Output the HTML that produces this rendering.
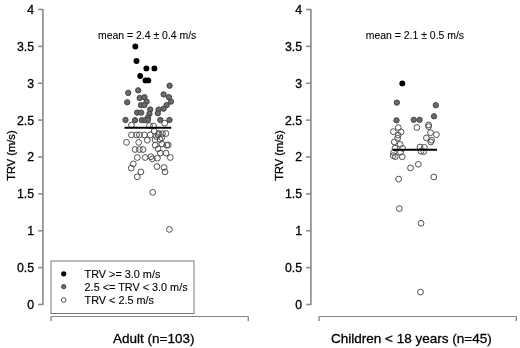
<!DOCTYPE html>
<html><head><meta charset="utf-8"><style>
html,body{margin:0;padding:0;background:#fff;}
svg{display:block;will-change:transform;}
text{font-family:"Liberation Sans",sans-serif;fill:#000;stroke:#000;stroke-width:0.3px;}
</style></head><body>
<svg width="520" height="348" viewBox="0 0 520 348">
<rect width="520" height="348" fill="#fff"/>
<line x1="42.9" y1="9.0" x2="42.9" y2="305.0" stroke="#8f8f8f" stroke-width="1.7"/>
<line x1="38.2" y1="304.5" x2="43" y2="304.5" stroke="#8a8a8a" stroke-width="1.6"/>
<text x="34.05" y="308.9" font-size="12.3" text-anchor="end" >0</text>
<line x1="38.2" y1="267.625" x2="43" y2="267.625" stroke="#8a8a8a" stroke-width="1.6"/>
<text x="34.05" y="272.025" font-size="12.3" text-anchor="end" >0.5</text>
<line x1="38.2" y1="230.75" x2="43" y2="230.75" stroke="#8a8a8a" stroke-width="1.6"/>
<text x="34.05" y="235.15" font-size="12.3" text-anchor="end" >1</text>
<line x1="38.2" y1="193.875" x2="43" y2="193.875" stroke="#8a8a8a" stroke-width="1.6"/>
<text x="34.05" y="198.275" font-size="12.3" text-anchor="end" >1.5</text>
<line x1="38.2" y1="157.0" x2="43" y2="157.0" stroke="#8a8a8a" stroke-width="1.6"/>
<text x="34.05" y="161.4" font-size="12.3" text-anchor="end" >2</text>
<line x1="38.2" y1="120.125" x2="43" y2="120.125" stroke="#8a8a8a" stroke-width="1.6"/>
<text x="34.05" y="124.525" font-size="12.3" text-anchor="end" >2.5</text>
<line x1="38.2" y1="83.25" x2="43" y2="83.25" stroke="#8a8a8a" stroke-width="1.6"/>
<text x="34.05" y="87.65" font-size="12.3" text-anchor="end" >3</text>
<line x1="38.2" y1="46.375" x2="43" y2="46.375" stroke="#8a8a8a" stroke-width="1.6"/>
<text x="34.05" y="50.775" font-size="12.3" text-anchor="end" >3.5</text>
<line x1="38.2" y1="9.5" x2="43" y2="9.5" stroke="#8a8a8a" stroke-width="1.6"/>
<text x="34.05" y="13.9" font-size="12.3" text-anchor="end" >4</text>
<line x1="51" y1="316.5" x2="248.3" y2="316.5" stroke="#858585" stroke-width="1"/>
<line x1="51" y1="316.5" x2="51" y2="321" stroke="#858585" stroke-width="1.4"/>
<line x1="248.3" y1="316.5" x2="248.3" y2="321" stroke="#858585" stroke-width="1.4"/>
<text x="0" y="0" font-size="11.1" text-anchor="middle" transform="translate(14.7 155.6) rotate(-90)">TRV (m/s)</text>
<line x1="310.9" y1="9.0" x2="310.9" y2="305.0" stroke="#8f8f8f" stroke-width="1.7"/>
<line x1="306.2" y1="304.5" x2="311" y2="304.5" stroke="#8a8a8a" stroke-width="1.6"/>
<text x="302.05" y="308.9" font-size="12.3" text-anchor="end" >0</text>
<line x1="306.2" y1="267.625" x2="311" y2="267.625" stroke="#8a8a8a" stroke-width="1.6"/>
<text x="302.05" y="272.025" font-size="12.3" text-anchor="end" >0.5</text>
<line x1="306.2" y1="230.75" x2="311" y2="230.75" stroke="#8a8a8a" stroke-width="1.6"/>
<text x="302.05" y="235.15" font-size="12.3" text-anchor="end" >1</text>
<line x1="306.2" y1="193.875" x2="311" y2="193.875" stroke="#8a8a8a" stroke-width="1.6"/>
<text x="302.05" y="198.275" font-size="12.3" text-anchor="end" >1.5</text>
<line x1="306.2" y1="157.0" x2="311" y2="157.0" stroke="#8a8a8a" stroke-width="1.6"/>
<text x="302.05" y="161.4" font-size="12.3" text-anchor="end" >2</text>
<line x1="306.2" y1="120.125" x2="311" y2="120.125" stroke="#8a8a8a" stroke-width="1.6"/>
<text x="302.05" y="124.525" font-size="12.3" text-anchor="end" >2.5</text>
<line x1="306.2" y1="83.25" x2="311" y2="83.25" stroke="#8a8a8a" stroke-width="1.6"/>
<text x="302.05" y="87.65" font-size="12.3" text-anchor="end" >3</text>
<line x1="306.2" y1="46.375" x2="311" y2="46.375" stroke="#8a8a8a" stroke-width="1.6"/>
<text x="302.05" y="50.775" font-size="12.3" text-anchor="end" >3.5</text>
<line x1="306.2" y1="9.5" x2="311" y2="9.5" stroke="#8a8a8a" stroke-width="1.6"/>
<text x="302.05" y="13.9" font-size="12.3" text-anchor="end" >4</text>
<line x1="319" y1="316.5" x2="516.3" y2="316.5" stroke="#858585" stroke-width="1"/>
<line x1="319" y1="316.5" x2="319" y2="321" stroke="#858585" stroke-width="1.4"/>
<line x1="516.3" y1="316.5" x2="516.3" y2="321" stroke="#858585" stroke-width="1.4"/>
<text x="0" y="0" font-size="11.1" text-anchor="middle" transform="translate(282.7 155.6) rotate(-90)">TRV (m/s)</text>
<text x="98" y="39.2" font-size="10.45" text-anchor="start" style="stroke-width:0.08px">mean = 2.4 ± 0.4 m/s</text>
<text x="365.8" y="39.2" font-size="10.45" text-anchor="start" style="stroke-width:0.08px">mean = 2.1 ± 0.5 m/s</text>
<text x="113.1" y="342.5" font-size="13.5" text-anchor="start" >Adult (n=103)</text>
<text x="331.1" y="342.5" font-size="13.5" text-anchor="start" >Children &lt; 18 years (n=45)</text>
<rect x="51" y="261" width="143" height="52.5" fill="none" stroke="#777" stroke-width="1"/>
<text x="84.6" y="277.5" font-size="10.85" text-anchor="start" style="stroke-width:0.1px">TRV &gt;= 3.0 m/s</text>
<text x="84.6" y="290.7" font-size="10.85" text-anchor="start" style="stroke-width:0.1px">2.5 &lt;= TRV &lt; 3.0 m/s</text>
<text x="84.6" y="303.9" font-size="10.85" text-anchor="start" style="stroke-width:0.1px">TRV &lt; 2.5 m/s</text>
<circle cx="63.7" cy="273.8" r="2.6" fill="#000"/>
<circle cx="63.7" cy="286.7" r="2.15" fill="#6b6b6b" stroke="#424242" stroke-width="1"/>
<circle cx="63.7" cy="300" r="2.3" fill="none" stroke="#505050" stroke-width="1.0"/>
<circle cx="131.5" cy="125" r="2.9" fill="none" stroke="#505050" stroke-width="1.0"/>
<circle cx="164.7" cy="123.2" r="2.9" fill="none" stroke="#505050" stroke-width="1.0"/>
<circle cx="149.5" cy="125.5" r="2.9" fill="none" stroke="#505050" stroke-width="1.0"/>
<circle cx="153.5" cy="126" r="2.9" fill="none" stroke="#505050" stroke-width="1.0"/>
<circle cx="131.5" cy="134.9" r="2.9" fill="none" stroke="#505050" stroke-width="1.0"/>
<circle cx="136.6" cy="134.9" r="2.9" fill="none" stroke="#505050" stroke-width="1.0"/>
<circle cx="139.4" cy="134.9" r="2.9" fill="none" stroke="#505050" stroke-width="1.0"/>
<circle cx="144.5" cy="134.9" r="2.9" fill="none" stroke="#505050" stroke-width="1.0"/>
<circle cx="150.2" cy="134.9" r="2.9" fill="none" stroke="#505050" stroke-width="1.0"/>
<circle cx="154.2" cy="131" r="2.9" fill="none" stroke="#505050" stroke-width="1.0"/>
<circle cx="156.3" cy="136.5" r="2.9" fill="none" stroke="#505050" stroke-width="1.0"/>
<circle cx="161.8" cy="137.7" r="2.9" fill="none" stroke="#505050" stroke-width="1.0"/>
<circle cx="159" cy="133.5" r="2.9" fill="none" stroke="#505050" stroke-width="1.0"/>
<circle cx="160" cy="139.5" r="2.9" fill="none" stroke="#505050" stroke-width="1.0"/>
<circle cx="158.1" cy="134.5" r="2.9" fill="none" stroke="#505050" stroke-width="1.0"/>
<circle cx="162.4" cy="133.7" r="2.9" fill="none" stroke="#505050" stroke-width="1.0"/>
<circle cx="166" cy="133.5" r="2.9" fill="none" stroke="#505050" stroke-width="1.0"/>
<circle cx="126.5" cy="142.4" r="2.9" fill="none" stroke="#505050" stroke-width="1.0"/>
<circle cx="138.7" cy="142.4" r="2.9" fill="none" stroke="#505050" stroke-width="1.0"/>
<circle cx="147.3" cy="140.2" r="2.9" fill="none" stroke="#505050" stroke-width="1.0"/>
<circle cx="155" cy="139.8" r="2.9" fill="none" stroke="#505050" stroke-width="1.0"/>
<circle cx="155.2" cy="145.2" r="2.9" fill="none" stroke="#505050" stroke-width="1.0"/>
<circle cx="161.8" cy="143.9" r="2.9" fill="none" stroke="#505050" stroke-width="1.0"/>
<circle cx="168.2" cy="145" r="2.9" fill="none" stroke="#505050" stroke-width="1.0"/>
<circle cx="166.7" cy="145.2" r="2.9" fill="none" stroke="#505050" stroke-width="1.0"/>
<circle cx="135.1" cy="149.5" r="2.9" fill="none" stroke="#505050" stroke-width="1.0"/>
<circle cx="139.4" cy="149.5" r="2.9" fill="none" stroke="#505050" stroke-width="1.0"/>
<circle cx="143" cy="149.5" r="2.9" fill="none" stroke="#505050" stroke-width="1.0"/>
<circle cx="158.1" cy="148.8" r="2.9" fill="none" stroke="#505050" stroke-width="1.0"/>
<circle cx="160.3" cy="153.1" r="2.9" fill="none" stroke="#505050" stroke-width="1.0"/>
<circle cx="137.3" cy="157.5" r="2.9" fill="none" stroke="#505050" stroke-width="1.0"/>
<circle cx="145.2" cy="157.5" r="2.9" fill="none" stroke="#505050" stroke-width="1.0"/>
<circle cx="150.9" cy="156.7" r="2.9" fill="none" stroke="#505050" stroke-width="1.0"/>
<circle cx="152.4" cy="158.9" r="2.9" fill="none" stroke="#505050" stroke-width="1.0"/>
<circle cx="157.4" cy="158.2" r="2.9" fill="none" stroke="#505050" stroke-width="1.0"/>
<circle cx="166" cy="153.1" r="2.9" fill="none" stroke="#505050" stroke-width="1.0"/>
<circle cx="170.3" cy="157.5" r="2.9" fill="none" stroke="#505050" stroke-width="1.0"/>
<circle cx="133.3" cy="163.9" r="2.9" fill="none" stroke="#505050" stroke-width="1.0"/>
<circle cx="131.2" cy="168.2" r="2.9" fill="none" stroke="#505050" stroke-width="1.0"/>
<circle cx="140.9" cy="171.9" r="2.9" fill="none" stroke="#505050" stroke-width="1.0"/>
<circle cx="137.2" cy="176.8" r="2.9" fill="none" stroke="#505050" stroke-width="1.0"/>
<circle cx="157" cy="166.5" r="2.9" fill="none" stroke="#505050" stroke-width="1.0"/>
<circle cx="164.1" cy="167.5" r="2.9" fill="none" stroke="#505050" stroke-width="1.0"/>
<circle cx="165" cy="171.9" r="2.9" fill="none" stroke="#505050" stroke-width="1.0"/>
<circle cx="152.7" cy="192.3" r="2.9" fill="none" stroke="#505050" stroke-width="1.0"/>
<circle cx="169.4" cy="229.4" r="2.9" fill="none" stroke="#505050" stroke-width="1.0"/>
<circle cx="398.3" cy="127.6" r="2.9" fill="none" stroke="#505050" stroke-width="1.0"/>
<circle cx="393.3" cy="131.6" r="2.9" fill="none" stroke="#505050" stroke-width="1.0"/>
<circle cx="401.1" cy="131.9" r="2.9" fill="none" stroke="#505050" stroke-width="1.0"/>
<circle cx="398.2" cy="135.2" r="2.9" fill="none" stroke="#505050" stroke-width="1.0"/>
<circle cx="397.6" cy="138.2" r="2.9" fill="none" stroke="#505050" stroke-width="1.0"/>
<circle cx="394.3" cy="141.9" r="2.9" fill="none" stroke="#505050" stroke-width="1.0"/>
<circle cx="400.1" cy="144.3" r="2.9" fill="none" stroke="#505050" stroke-width="1.0"/>
<circle cx="395" cy="148.1" r="2.9" fill="none" stroke="#505050" stroke-width="1.0"/>
<circle cx="402.6" cy="148.4" r="2.9" fill="none" stroke="#505050" stroke-width="1.0"/>
<circle cx="393.6" cy="152.6" r="2.9" fill="none" stroke="#505050" stroke-width="1.0"/>
<circle cx="400.5" cy="152.2" r="2.9" fill="none" stroke="#505050" stroke-width="1.0"/>
<circle cx="395.3" cy="156.7" r="2.9" fill="none" stroke="#505050" stroke-width="1.0"/>
<circle cx="402.2" cy="156.7" r="2.9" fill="none" stroke="#505050" stroke-width="1.0"/>
<circle cx="393.2" cy="155.6" r="2.9" fill="none" stroke="#505050" stroke-width="1.0"/>
<circle cx="416.9" cy="127.5" r="2.9" fill="none" stroke="#505050" stroke-width="1.0"/>
<circle cx="428.6" cy="124.9" r="2.9" fill="none" stroke="#505050" stroke-width="1.0"/>
<circle cx="428.6" cy="126.6" r="2.9" fill="none" stroke="#505050" stroke-width="1.0"/>
<circle cx="430.5" cy="132.7" r="2.9" fill="none" stroke="#505050" stroke-width="1.0"/>
<circle cx="436.4" cy="134.6" r="2.9" fill="none" stroke="#505050" stroke-width="1.0"/>
<circle cx="426.4" cy="137.9" r="2.9" fill="none" stroke="#505050" stroke-width="1.0"/>
<circle cx="431.6" cy="140.2" r="2.9" fill="none" stroke="#505050" stroke-width="1.0"/>
<circle cx="430.8" cy="142" r="2.9" fill="none" stroke="#505050" stroke-width="1.0"/>
<circle cx="420" cy="147" r="2.9" fill="none" stroke="#505050" stroke-width="1.0"/>
<circle cx="424.3" cy="147.3" r="2.9" fill="none" stroke="#505050" stroke-width="1.0"/>
<circle cx="421" cy="151.3" r="2.9" fill="none" stroke="#505050" stroke-width="1.0"/>
<circle cx="423.8" cy="151.6" r="2.9" fill="none" stroke="#505050" stroke-width="1.0"/>
<circle cx="410.5" cy="167.9" r="2.9" fill="none" stroke="#505050" stroke-width="1.0"/>
<circle cx="418.3" cy="164.3" r="2.9" fill="none" stroke="#505050" stroke-width="1.0"/>
<circle cx="398.6" cy="179.1" r="2.9" fill="none" stroke="#505050" stroke-width="1.0"/>
<circle cx="433.8" cy="177" r="2.9" fill="none" stroke="#505050" stroke-width="1.0"/>
<circle cx="399.3" cy="208.6" r="2.9" fill="none" stroke="#505050" stroke-width="1.0"/>
<circle cx="421" cy="223.3" r="2.9" fill="none" stroke="#505050" stroke-width="1.0"/>
<circle cx="420.5" cy="292.1" r="2.9" fill="none" stroke="#505050" stroke-width="1.0"/>
<circle cx="128.2" cy="92.9" r="2.65" fill="#6b6b6b" stroke="#424242" stroke-width="1"/>
<circle cx="138.2" cy="90.3" r="2.65" fill="#6b6b6b" stroke="#424242" stroke-width="1"/>
<circle cx="127.2" cy="102.3" r="2.65" fill="#6b6b6b" stroke="#424242" stroke-width="1"/>
<circle cx="139.7" cy="98" r="2.65" fill="#6b6b6b" stroke="#424242" stroke-width="1"/>
<circle cx="144.5" cy="97.2" r="2.65" fill="#6b6b6b" stroke="#424242" stroke-width="1"/>
<circle cx="146.6" cy="101.6" r="2.65" fill="#6b6b6b" stroke="#424242" stroke-width="1"/>
<circle cx="140.9" cy="105.1" r="2.65" fill="#6b6b6b" stroke="#424242" stroke-width="1"/>
<circle cx="144.5" cy="105.1" r="2.65" fill="#6b6b6b" stroke="#424242" stroke-width="1"/>
<circle cx="137.1" cy="112.6" r="2.65" fill="#6b6b6b" stroke="#424242" stroke-width="1"/>
<circle cx="141.1" cy="112.6" r="2.65" fill="#6b6b6b" stroke="#424242" stroke-width="1"/>
<circle cx="150.2" cy="109.5" r="2.65" fill="#6b6b6b" stroke="#424242" stroke-width="1"/>
<circle cx="149.5" cy="113.8" r="2.65" fill="#6b6b6b" stroke="#424242" stroke-width="1"/>
<circle cx="148" cy="117.4" r="2.65" fill="#6b6b6b" stroke="#424242" stroke-width="1"/>
<circle cx="125.5" cy="120" r="2.65" fill="#6b6b6b" stroke="#424242" stroke-width="1"/>
<circle cx="135" cy="120.2" r="2.65" fill="#6b6b6b" stroke="#424242" stroke-width="1"/>
<circle cx="141.8" cy="120.2" r="2.65" fill="#6b6b6b" stroke="#424242" stroke-width="1"/>
<circle cx="145.3" cy="120.2" r="2.65" fill="#6b6b6b" stroke="#424242" stroke-width="1"/>
<circle cx="148" cy="119.8" r="2.65" fill="#6b6b6b" stroke="#424242" stroke-width="1"/>
<circle cx="169.6" cy="85.7" r="2.65" fill="#6b6b6b" stroke="#424242" stroke-width="1"/>
<circle cx="163.6" cy="94.4" r="2.65" fill="#6b6b6b" stroke="#424242" stroke-width="1"/>
<circle cx="168.9" cy="97.2" r="2.65" fill="#6b6b6b" stroke="#424242" stroke-width="1"/>
<circle cx="171" cy="101.6" r="2.65" fill="#6b6b6b" stroke="#424242" stroke-width="1"/>
<circle cx="166.7" cy="105.1" r="2.65" fill="#6b6b6b" stroke="#424242" stroke-width="1"/>
<circle cx="163.6" cy="108.7" r="2.65" fill="#6b6b6b" stroke="#424242" stroke-width="1"/>
<circle cx="158.6" cy="109.6" r="2.65" fill="#6b6b6b" stroke="#424242" stroke-width="1"/>
<circle cx="157.8" cy="113.3" r="2.65" fill="#6b6b6b" stroke="#424242" stroke-width="1"/>
<circle cx="160.3" cy="120" r="2.65" fill="#6b6b6b" stroke="#424242" stroke-width="1"/>
<circle cx="169.5" cy="120" r="2.65" fill="#6b6b6b" stroke="#424242" stroke-width="1"/>
<circle cx="396.9" cy="102.6" r="2.65" fill="#6b6b6b" stroke="#424242" stroke-width="1"/>
<circle cx="435.8" cy="105.2" r="2.65" fill="#6b6b6b" stroke="#424242" stroke-width="1"/>
<circle cx="434" cy="116.3" r="2.65" fill="#6b6b6b" stroke="#424242" stroke-width="1"/>
<circle cx="396.5" cy="120.3" r="2.65" fill="#6b6b6b" stroke="#424242" stroke-width="1"/>
<circle cx="413.8" cy="119.8" r="2.65" fill="#6b6b6b" stroke="#424242" stroke-width="1"/>
<circle cx="419.6" cy="119.8" r="2.65" fill="#6b6b6b" stroke="#424242" stroke-width="1"/>
<circle cx="135.3" cy="46.5" r="2.95" fill="#000"/>
<circle cx="136.5" cy="61" r="2.95" fill="#000"/>
<circle cx="146.4" cy="68.4" r="2.95" fill="#000"/>
<circle cx="154.4" cy="68.4" r="2.95" fill="#000"/>
<circle cx="140.2" cy="76" r="2.95" fill="#000"/>
<circle cx="145.5" cy="80.4" r="2.95" fill="#000"/>
<circle cx="148.3" cy="80.4" r="2.95" fill="#000"/>
<circle cx="402.3" cy="83.4" r="2.95" fill="#000"/>
<line x1="124.5" y1="127.8" x2="171.2" y2="127.8" stroke="#000" stroke-width="2"/>
<line x1="392.8" y1="149.8" x2="437" y2="149.8" stroke="#000" stroke-width="2"/>
</svg></body></html>
